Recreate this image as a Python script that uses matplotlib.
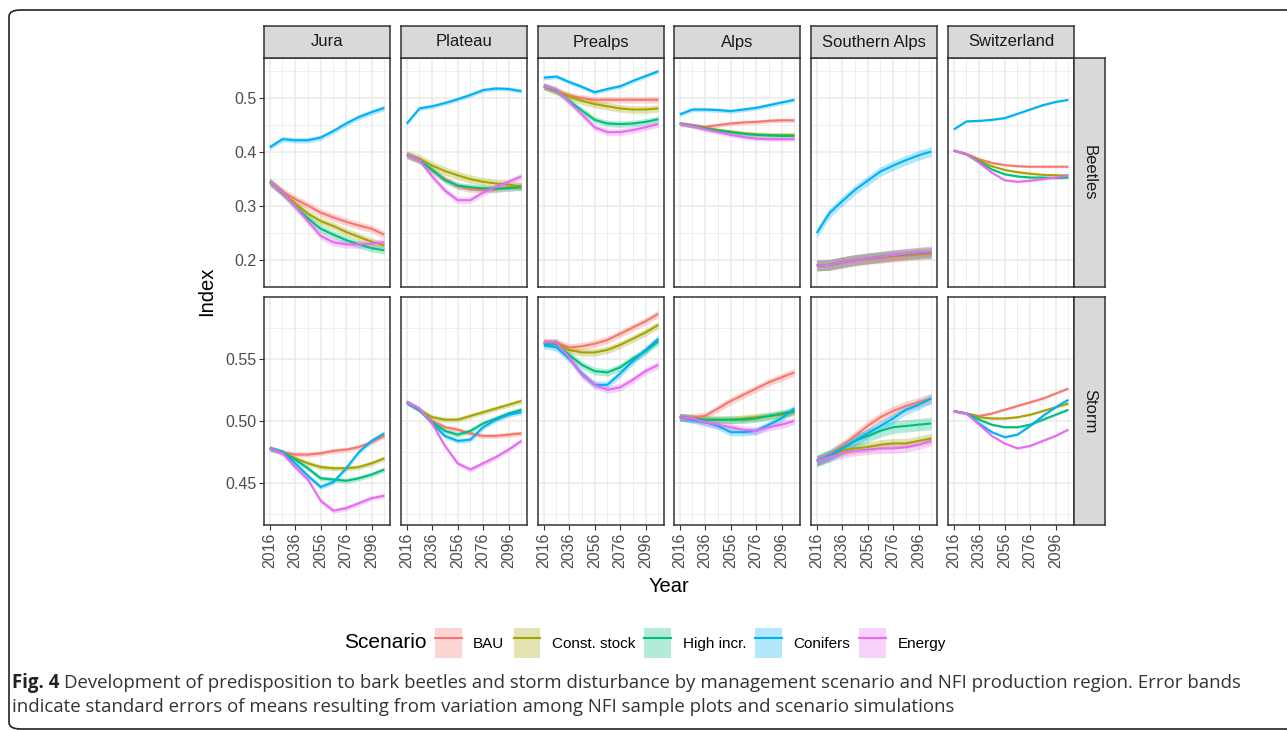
import matplotlib
matplotlib.use("Agg")
import matplotlib.pyplot as plt
from matplotlib.lines import Line2D
from matplotlib.patches import Patch, FancyBboxPatch

plt.rcParams["font.family"] = ["Liberation Sans", "DejaVu Sans"]

YEARS = [2016, 2026, 2036, 2046, 2056, 2066, 2076, 2086, 2096, 2106]
REGIONS = ["Jura", "Plateau", "Prealps", "Alps", "Southern Alps", "Switzerland"]
INDICES = ["Beetles", "Storm"]
SCENARIOS = ["BAU", "Const. stock", "High incr.", "Conifers", "Energy"]
COLORS = ["#F8766D", "#A3A500", "#00BF7D", "#00B0F6", "#E76BF3"]

# Beetles index, one list per scenario (order of SCENARIOS)
BEETLES_JURA = [
    [0.345, 0.327, 0.313, 0.301, 0.288, 0.279, 0.271, 0.264, 0.258, 0.247],
    [0.345, 0.325, 0.305, 0.286, 0.272, 0.263, 0.252, 0.243, 0.234, 0.227],
    [0.345, 0.324, 0.300, 0.277, 0.258, 0.247, 0.237, 0.229, 0.222, 0.218],
    [0.409, 0.424, 0.422, 0.422, 0.427, 0.439, 0.453, 0.465, 0.474, 0.482],
    [0.345, 0.325, 0.300, 0.272, 0.245, 0.233, 0.229, 0.229, 0.230, 0.233],
]
BEETLES_PLATEAU = [
    [0.395, 0.385, 0.366, 0.350, 0.337, 0.331, 0.330, 0.331, 0.335, 0.338],
    [0.395, 0.388, 0.375, 0.365, 0.357, 0.350, 0.345, 0.342, 0.340, 0.336],
    [0.395, 0.385, 0.367, 0.348, 0.338, 0.335, 0.333, 0.332, 0.333, 0.335],
    [0.453, 0.481, 0.485, 0.491, 0.498, 0.506, 0.515, 0.518, 0.517, 0.513],
    [0.395, 0.385, 0.355, 0.329, 0.311, 0.311, 0.325, 0.336, 0.345, 0.355],
]
BEETLES_PREALPS = [
    [0.522, 0.513, 0.505, 0.500, 0.497, 0.497, 0.497, 0.497, 0.497, 0.497],
    [0.522, 0.513, 0.503, 0.495, 0.489, 0.485, 0.481, 0.479, 0.479, 0.481],
    [0.522, 0.514, 0.495, 0.477, 0.460, 0.453, 0.452, 0.453, 0.456, 0.461],
    [0.538, 0.540, 0.530, 0.521, 0.511, 0.517, 0.522, 0.532, 0.541, 0.550],
    [0.522, 0.516, 0.493, 0.470, 0.446, 0.437, 0.437, 0.441, 0.446, 0.452],
]
BEETLES_ALPS = [
    [0.453, 0.450, 0.447, 0.450, 0.453, 0.455, 0.456, 0.458, 0.459, 0.459],
    [0.453, 0.449, 0.445, 0.441, 0.438, 0.435, 0.433, 0.432, 0.432, 0.432],
    [0.453, 0.449, 0.444, 0.440, 0.437, 0.434, 0.432, 0.431, 0.430, 0.430],
    [0.470, 0.479, 0.479, 0.478, 0.476, 0.479, 0.482, 0.487, 0.492, 0.497],
    [0.453, 0.448, 0.442, 0.437, 0.432, 0.428, 0.425, 0.424, 0.424, 0.424],
]
BEETLES_SOUTHERN_ALPS = [
    [0.190, 0.191, 0.195, 0.199, 0.202, 0.204, 0.206, 0.208, 0.210, 0.211],
    [0.190, 0.191, 0.196, 0.200, 0.203, 0.205, 0.208, 0.210, 0.212, 0.213],
    [0.190, 0.191, 0.196, 0.200, 0.203, 0.206, 0.209, 0.211, 0.213, 0.215],
    [0.250, 0.287, 0.309, 0.330, 0.347, 0.364, 0.375, 0.385, 0.394, 0.401],
    [0.190, 0.191, 0.196, 0.200, 0.203, 0.206, 0.209, 0.212, 0.214, 0.216],
]
BEETLES_SWITZERLAND = [
    [0.403, 0.397, 0.387, 0.380, 0.376, 0.374, 0.373, 0.373, 0.373, 0.373],
    [0.403, 0.396, 0.384, 0.374, 0.367, 0.363, 0.360, 0.358, 0.357, 0.357],
    [0.403, 0.396, 0.382, 0.368, 0.359, 0.355, 0.353, 0.353, 0.352, 0.353],
    [0.442, 0.457, 0.458, 0.460, 0.463, 0.471, 0.479, 0.487, 0.493, 0.497],
    [0.403, 0.396, 0.380, 0.362, 0.348, 0.345, 0.347, 0.350, 0.353, 0.357],
]

# Storm index
STORM_JURA = [
    [0.478, 0.475, 0.473, 0.473, 0.474, 0.476, 0.477, 0.479, 0.483, 0.488],
    [0.478, 0.475, 0.470, 0.466, 0.463, 0.462, 0.462, 0.463, 0.466, 0.470],
    [0.478, 0.475, 0.469, 0.462, 0.454, 0.453, 0.452, 0.454, 0.457, 0.461],
    [0.478, 0.475, 0.466, 0.456, 0.447, 0.451, 0.462, 0.475, 0.484, 0.490],
    [0.478, 0.474, 0.463, 0.453, 0.436, 0.428, 0.430, 0.434, 0.438, 0.440],
]
STORM_PLATEAU = [
    [0.515, 0.509, 0.500, 0.495, 0.493, 0.490, 0.488, 0.488, 0.489, 0.490],
    [0.515, 0.509, 0.503, 0.501, 0.501, 0.504, 0.507, 0.510, 0.513, 0.516],
    [0.515, 0.509, 0.499, 0.492, 0.489, 0.492, 0.498, 0.502, 0.506, 0.509],
    [0.515, 0.509, 0.498, 0.488, 0.484, 0.485, 0.495, 0.501, 0.505, 0.507],
    [0.515, 0.510, 0.498, 0.480, 0.466, 0.461, 0.466, 0.471, 0.477, 0.484],
]
STORM_PREALPS = [
    [0.563, 0.563, 0.559, 0.560, 0.562, 0.565, 0.570, 0.575, 0.580, 0.586],
    [0.563, 0.562, 0.557, 0.555, 0.555, 0.557, 0.561, 0.566, 0.571, 0.577],
    [0.562, 0.562, 0.553, 0.545, 0.540, 0.539, 0.543, 0.550, 0.556, 0.564],
    [0.561, 0.559, 0.550, 0.538, 0.529, 0.529, 0.538, 0.548, 0.557, 0.566],
    [0.563, 0.563, 0.551, 0.537, 0.529, 0.525, 0.527, 0.533, 0.540, 0.545],
]
STORM_ALPS = [
    [0.503, 0.503, 0.504, 0.510, 0.516, 0.521, 0.526, 0.531, 0.535, 0.539],
    [0.503, 0.502, 0.501, 0.501, 0.501, 0.502, 0.503, 0.504, 0.505, 0.507],
    [0.503, 0.502, 0.501, 0.501, 0.501, 0.501, 0.502, 0.504, 0.506, 0.508],
    [0.503, 0.501, 0.499, 0.496, 0.491, 0.491, 0.492, 0.497, 0.502, 0.510],
    [0.503, 0.502, 0.499, 0.497, 0.495, 0.493, 0.492, 0.495, 0.497, 0.500],
]
STORM_SOUTHERN_ALPS = [
    [0.468, 0.473, 0.480, 0.488, 0.496, 0.503, 0.508, 0.512, 0.515, 0.518],
    [0.468, 0.472, 0.476, 0.478, 0.479, 0.481, 0.482, 0.482, 0.484, 0.486],
    [0.468, 0.472, 0.478, 0.484, 0.488, 0.492, 0.495, 0.496, 0.497, 0.498],
    [0.468, 0.472, 0.478, 0.484, 0.490, 0.496, 0.502, 0.509, 0.513, 0.518],
    [0.468, 0.471, 0.474, 0.476, 0.477, 0.478, 0.478, 0.479, 0.481, 0.484],
]
STORM_SWITZERLAND = [
    [0.508, 0.506, 0.504, 0.506, 0.509, 0.512, 0.515, 0.518, 0.522, 0.526],
    [0.508, 0.506, 0.503, 0.502, 0.502, 0.503, 0.505, 0.508, 0.511, 0.514],
    [0.508, 0.506, 0.501, 0.497, 0.495, 0.495, 0.497, 0.501, 0.505, 0.509],
    [0.508, 0.506, 0.498, 0.491, 0.487, 0.489, 0.496, 0.504, 0.511, 0.517],
    [0.508, 0.506, 0.497, 0.488, 0.482, 0.478, 0.480, 0.484, 0.488, 0.493],
]

# standard errors (band half-width) per panel, per scenario
SE_BEETLES = {
    "Jura": [0.007, 0.007, 0.007, 0.005, 0.007],
    "Plateau": [0.006, 0.008, 0.006, 0.004, 0.006],
    "Prealps": [0.006, 0.007, 0.006, 0.004, 0.006],
    "Alps": [0.004, 0.004, 0.004, 0.004, 0.004],
    "Southern Alps": [0.010, 0.010, 0.010, 0.009, 0.010],
    "Switzerland": [0.002, 0.002, 0.002, 0.002, 0.002],
}
SE_STORM = {
    "Jura": [0.002, 0.002, 0.002, 0.002, 0.002],
    "Plateau": [0.002, 0.002, 0.002, 0.002, 0.002],
    "Prealps": [0.003, 0.003, 0.003, 0.003, 0.003],
    "Alps": [0.003, 0.003, 0.003, 0.003, 0.003],
    "Southern Alps": [0.004, 0.004, 0.005, 0.004, 0.004],
    "Switzerland": [0.001, 0.001, 0.001, 0.001, 0.001],
}

DATA = {
    "Beetles": dict(zip(REGIONS, [BEETLES_JURA, BEETLES_PLATEAU, BEETLES_PREALPS,
                                  BEETLES_ALPS, BEETLES_SOUTHERN_ALPS, BEETLES_SWITZERLAND])),
    "Storm": dict(zip(REGIONS, [STORM_JURA, STORM_PLATEAU, STORM_PREALPS,
                                STORM_ALPS, STORM_SOUTHERN_ALPS, STORM_SWITZERLAND])),
}
SE = {"Beetles": SE_BEETLES, "Storm": SE_STORM}

YLIM = {"Beetles": (0.1606, 0.5745), "Storm": (0.4165, 0.5995)}
YTICKS = {"Beetles": [0.2, 0.3, 0.4, 0.5], "Storm": [0.45, 0.50, 0.55]}
YTICKLABELS = {"Beetles": ["0.2", "0.3", "0.4", "0.5"], "Storm": ["0.45", "0.50", "0.55"]}
YMINOR = {"Beetles": [0.15, 0.25, 0.35, 0.45, 0.55], "Storm": [0.425, 0.475, 0.525, 0.575]}
XMAJOR = [2016, 2036, 2056, 2076, 2096]
XMINOR = [2026, 2046, 2066, 2086, 2106]

W, H = 1287, 730
fig = plt.figure(figsize=(W / 100, H / 100), dpi=100)


def px_axes(x0, y0, x1, y1):
    return fig.add_axes([x0 / W, 1 - y1 / H, (x1 - x0) / W, (y1 - y0) / H])


def strip(ax):
    ax.set_facecolor("#D9D9D9")
    ax.set_xticks([])
    ax.set_yticks([])
    for sp in ax.spines.values():
        sp.set_color(EDGE)
        sp.set_linewidth(1.1)


# outer rounded frame
frame = FancyBboxPatch((9 / W, 1 - 729 / H), 1300 / W, 719 / H,
                       boxstyle="round,pad=0,rounding_size=0.009",
                       transform=fig.transFigure, fill=False, edgecolor="#222222",
                       linewidth=1.2, clip_on=False)
fig.patches.append(frame)

COL_X = [264, 401, 538, 674, 811, 948]
PANEL_W = 126
ROW_Y = [(58, 287), (297, 525)]
EDGE = "#333333"

for ri, idx in enumerate(INDICES):
    top, bot = ROW_Y[ri]
    for ci, region in enumerate(REGIONS):
        x0 = COL_X[ci]
        ax = px_axes(x0, top, x0 + PANEL_W, bot)
        series = DATA[idx][region]
        for si, name in enumerate(SCENARIOS):
            vals = series[si]
            se = SE[idx][region][si]
            lo = [v - se for v in vals]
            hi = [v + se for v in vals]
            ax.fill_between(YEARS, lo, hi, color=COLORS[si], alpha=0.3, linewidth=0)
        for si, name in enumerate(SCENARIOS):
            ax.plot(YEARS, series[si], color=COLORS[si], linewidth=1.5, solid_capstyle="butt")
        ax.set_xlim(2011.5, 2110.5)
        ax.set_ylim(*YLIM[idx])
        ax.set_xticks(XMAJOR)
        ax.set_xticks(XMINOR, minor=True)
        ax.set_yticks(YTICKS[idx])
        ax.set_yticks(YMINOR[idx], minor=True)
        ax.grid(which="major", color="#EBEBEB", linewidth=1.1)
        ax.grid(which="minor", color="#EBEBEB", linewidth=0.6)
        ax.set_axisbelow(True)
        for sp in ax.spines.values():
            sp.set_color(EDGE)
            sp.set_linewidth(1.1)
        ax.tick_params(which="minor", length=0)
        ax.tick_params(which="major", length=3.5, width=0.8, color=EDGE,
                       labelcolor="#4D4D4D", labelsize=11.5, pad=2)
        if ri == 0:
            ax.tick_params(axis="x", which="major", length=0, labelbottom=False)
        else:
            ax.set_xticklabels([str(y) for y in XMAJOR], rotation=90)
        if ci == 0:
            ax.set_yticklabels(YTICKLABELS[idx])
        else:
            ax.tick_params(axis="y", which="major", length=0, labelleft=False)

        if ri == 0:
            sax = px_axes(x0, 26, x0 + PANEL_W, 58)
            strip(sax)
            sax.text(0.5, 0.5, region, ha="center", va="center", fontsize=12,
                     color="#1A1A1A", transform=sax.transAxes)

    rax = px_axes(1074, top, 1105, bot)
    strip(rax)
    rax.text(0.5, 0.5, idx, ha="center", va="center", fontsize=12, rotation=-90,
             color="#1A1A1A", transform=rax.transAxes)

fig.text(207 / W, 1 - 291 / H, "Index", rotation=90, ha="center", va="center", fontsize=14.5)
fig.text(669 / W, 1 - 586 / H, "Year", ha="center", va="center", fontsize=14.5)

# legend
handles = [(Patch(facecolor=c, alpha=0.3, edgecolor="none"), Line2D([], [], color=c, linewidth=1.5))
           for c in COLORS]
fig.legend(handles, SCENARIOS, loc="center left", bbox_to_anchor=(435 / W, 1 - 643 / H),
           ncol=5, frameon=False, fontsize=11, handlelength=1.75, handleheight=2.65,
           handletextpad=0.75, columnspacing=0.6, borderpad=0, borderaxespad=0)
fig.text(427 / W, 1 - 643 / H, "Scenario", ha="right", va="center", fontsize=15)

# caption
cap_font = ["Open Sans", "DejaVu Sans"]
cap_size = 13.4
t = fig.text(12 / W, 1 - 683 / H, "Fig. 4", fontsize=cap_size, fontweight="bold",
             color="#222222", va="center", family=cap_font)
fig.canvas.draw()
bb = t.get_window_extent()
fig.text((bb.x1 + 5) / W, 1 - 683 / H,
         "Development of predisposition to bark beetles and storm disturbance by management "
         "scenario and NFI production region. Error bands",
         fontsize=cap_size, color="#333333", va="center", family=cap_font)
fig.text(12 / W, 1 - 707 / H,
         "indicate standard errors of means resulting from variation among NFI sample plots "
         "and scenario simulations",
         fontsize=cap_size, color="#333333", va="center", family=cap_font)

fig.savefig("out.png", dpi=100)
